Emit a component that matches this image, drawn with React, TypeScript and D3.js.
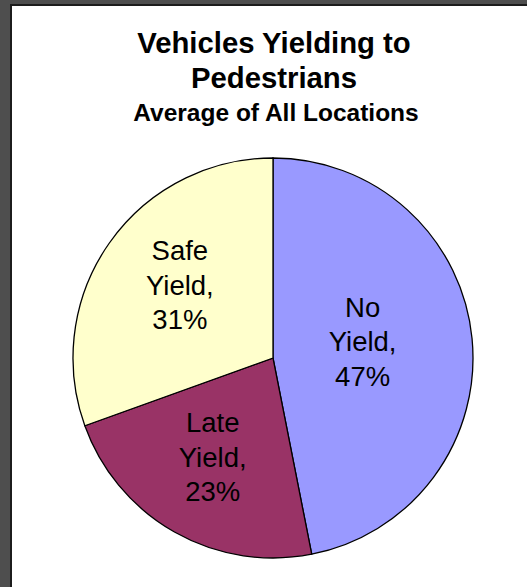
import React from "react";
import * as d3 from "d3";

const categories = ["No Yield", "Late Yield", "Safe Yield"];
const values = [46.9, 22.6, 30.5];
const colors = ["#9999FF", "#993366", "#FFFFCC"];
const titleLines = ["Vehicles Yielding to", "Pedestrians"];
const subtitle = "Average of All Locations";

const W = 527;
const H = 587;

export default function App() {
  const cx = 273;
  const cy = 358;
  const r = 200;
  const data = categories.map((c, i) => ({ name: c, value: values[i], color: colors[i] }));
  const pie = d3.pie<any>().sort(null).value((d: any) => d.value).startAngle(0).endAngle(2 * Math.PI);
  const arcs = pie(data);
  const arc = d3.arc<any>().innerRadius(0).outerRadius(r);
  const font = "'Liberation Sans', Arial, Helvetica, sans-serif";
  const lineH = 34.5;

  const sectorCentroid = (a: any) => {
    const mid = (a.startAngle + a.endAngle) / 2;
    const half = (a.endAngle - a.startAngle) / 2;
    const d = (2 * r * Math.sin(half)) / (3 * half);
    return [d * Math.sin(mid), -d * Math.cos(mid)];
  };

  return (
    <svg width={W} height={H} style={{ position: "absolute", left: 0, top: 0 }} xmlns="http://www.w3.org/2000/svg">
      <rect x={0} y={0} width={W} height={H} fill="#4e4e4e" />
      <rect x={10} y={4} width={W - 10} height={H - 4} fill="#1c1c1c" />
      <rect x={12} y={6} width={W - 12} height={H - 6} fill="#ffffff" />
      <g fontFamily={font} fill="#000" textAnchor="middle">
        {titleLines.map((t, i) => (
          <text key={t} x={274} y={53 + i * 34.5} fontSize={29.3} fontWeight="bold">
            {t}
          </text>
        ))}
        <text x={276} y={121} fontSize={24.5} fontWeight="bold">
          {subtitle}
        </text>
      </g>
      <g transform={`translate(${cx},${cy})`}>
        {arcs.map((a: any) => (
          <path key={a.data.name} d={arc(a) as string} fill={a.data.color} stroke="#000" strokeWidth={1.3} />
        ))}
        {arcs.map((a: any) => {
          const [lx, ly] = sectorCentroid(a);
          const words = a.data.name.split(" ");
          const lines = [words[0], words.slice(1).join(" ") + ",", Math.round(a.data.value) + "%"];
          return (
            <text
              key={"l" + a.data.name}
              x={lx}
              y={ly - lineH + 2}
              fontFamily={font}
              fontSize={27.5}
              textAnchor="middle"
              fill="#000"
            >
              {lines.map((ln, j) => (
                <tspan key={j} x={lx} dy={j === 0 ? 0 : lineH}>
                  {ln}
                </tspan>
              ))}
            </text>
          );
        })}
      </g>
    </svg>
  );
}
